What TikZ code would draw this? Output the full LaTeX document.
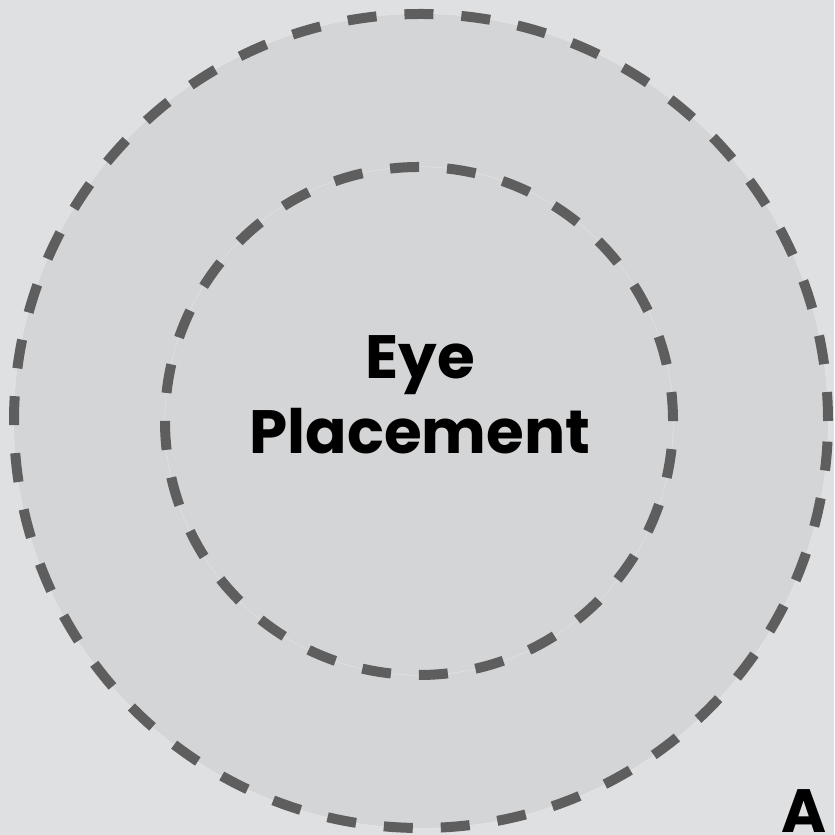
\documentclass[tikz,border=0pt]{standalone}
\usepackage{fontspec}
\setmainfont{Poppins}
\usepackage{tikz}
\usetikzlibrary{shapes.geometric}
\definecolor{backgrey}{RGB}{223,224,226}
\definecolor{ringgrey}{RGB}{212,213,215}
\definecolor{dashgrey}{RGB}{94,94,94}
\definecolor{rimgrey}{RGB}{228,229,231}
\tikzstyle{ring} = [circle,
draw=dashgrey,
line width=0.1cm,
dash pattern=on 0.29cm off 0.28cm,
fill=ringgrey]
\tikzstyle{rim} = [circle,
draw=rimgrey,
line width=0.3pt]
\tikzstyle{label} = [font=\bfseries\fontsize{17.4}{21.3}\selectfont,
align=center,
text=black]

\begin{document}
\begin{tikzpicture}
\fill[backgrey] (0,0) rectangle (8.34,8.35);
\useasboundingbox (0,0) rectangle (8.34,8.35);
\node (outerrim) [rim, minimum size=8.14cm] at (4.21,4.14) {};
\node (outer) [ring, minimum size=8.14cm] at (4.21,4.14) {};
\node (innerrim) [rim, minimum size=5.08cm] at (4.19,4.14) {};
\node (inner) [ring, minimum size=5.08cm] at (4.19,4.14) {};
\node (eye) [label] at (4.2,4.4) {Eye\\Placement};
\node (corner) [label, anchor=north west, inner sep=0pt] at (7.81,0.46) {A};
\end{tikzpicture}
\end{document}
